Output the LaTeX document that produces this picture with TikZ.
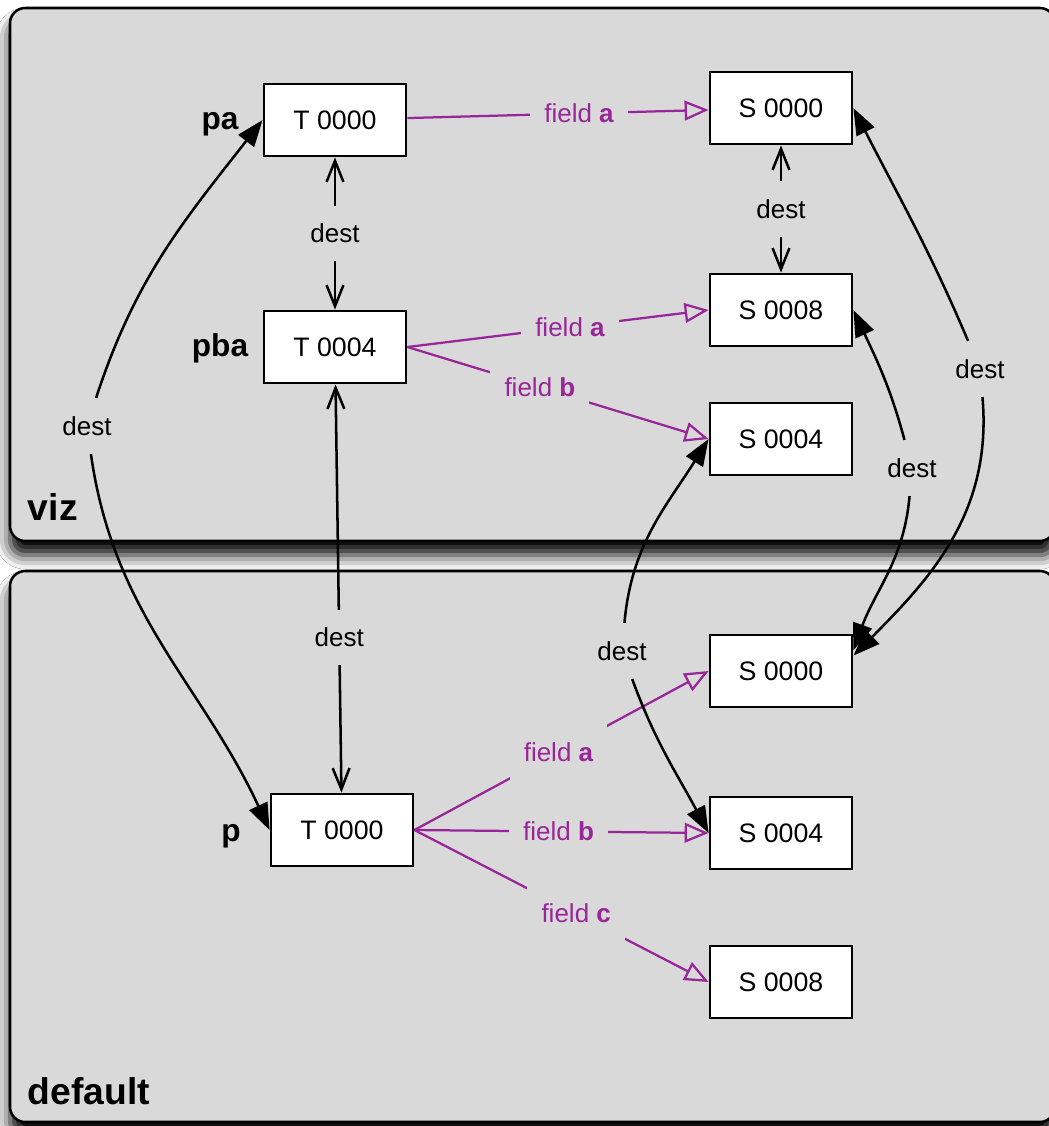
\documentclass[tikz,border=0pt]{standalone}
\usepackage{fontspec}
\setmainfont{Liberation Sans}
\usetikzlibrary{arrows.meta,shadows.blur}
\definecolor{pnlgray}{RGB}{217,217,217}
\definecolor{vio}{RGB}{152,38,152}
\tikzset{
  pnl/.style={draw=black,line width=1.8pt,fill=pnlgray,rounded corners=0.38cm,
              blur shadow={shadow xshift=0pt,shadow yshift=-10pt,
                           shadow blur radius=10pt,shadow opacity=100}},
  box/.style={draw=black,line width=2pt,fill=white,minimum width=3.55cm,
              minimum height=1.8cm,inner sep=0pt,font=\fontsize{19}{22}\selectfont},
  lbl/.style={fill=pnlgray,inner xsep=10pt,inner ysep=13pt,
              font=\fontsize{18.5}{22}\selectfont},
  flbl/.style={lbl,text=vio},
  nm/.style ={font=\fontsize{22.5}{26}\selectfont\bfseries,anchor=base},
  hdr/.style={font=\fontsize{26.5}{30}\selectfont\bfseries,anchor=base west},
  ar/.style ={-{Triangle[length=19pt,width=14pt,fill=black]},line width=1.8pt},
  dar/.style={{Straight Barb[length=15pt,width=12pt]}-{Straight Barb[length=15pt,width=12pt]},
              line width=1.8pt},
  far/.style={-{Triangle[open,length=17pt,width=14pt]},draw=vio,line width=1.6pt},
}
\begin{document}
\begin{tikzpicture}[x=0.025cm,y=0.025cm]
  \clip (0,0) rectangle (1049,-1126);
  \fill[white] (0,0) rectangle (1049,-1126);
  % the two panels
  \draw[pnl] (10,-8) rectangle (1055,-541);
  \draw[pnl] (10,-571) rectangle (1055,-1122);
  \node[hdr] (hviz) at (23,-520) {viz};
  \node[hdr] (hdef) at (23,-1104) {default};
  % viz
  \node[box] (pa)  at (335,-120) {T 0000};
  \node[box] (pba) at (335,-347) {T 0004};
  \node[box] (sa0) at (781,-108) {S 0000};
  \node[box] (sa8) at (781,-310) {S 0008};
  \node[box] (sa4) at (781,-439) {S 0004};
  \node[nm] (npa)  at (220,-129) {pa};
  \node[nm] (npba) at (220,-356) {pba};
  % default
  \node[box] (p)   at (342,-830) {T 0000};
  \node[box] (sb0) at (781,-671) {S 0000};
  \node[box] (sb4) at (781,-833) {S 0004};
  \node[box] (sb8) at (781,-982) {S 0008};
  \node[nm] (np) at (231,-841) {p};
  % dest labels of the curved links
  \node[lbl] (dL)  at (87,-426)  {dest};
  \node[lbl] (dR1) at (912,-468) {dest};
  \node[lbl] (dR2) at (980,-369) {dest};
  \node[lbl] (dM)  at (622,-651) {dest};
  % fields
  \draw[far] (pa) -- node[flbl,pos=.57]{field \textbf{a}} (sa0);
  \draw[far] (pba.east) -- node[flbl,pos=.54]{field \textbf{a}} (sa8.west);
  \draw[far] (pba.east) -- node[flbl,pos=.44]{field \textbf{b}} (sa4.west);
  \draw[far] (p.east) -- node[flbl,pos=.49]{field \textbf{a}} (sb0.west);
  \draw[far] (p.east) -- node[flbl,pos=.49]{field \textbf{b}} (sb4.west);
  \draw[far] (p.east) -- node[flbl,pos=.55]{field \textbf{c}} (sb8.west);
  % dest
  \draw[dar] (pa) -- node[lbl]{dest} (pba);
  \draw[dar] (sa0) -- node[lbl]{dest} (sa8);
  \draw[dar] (pba) -- node[lbl,pos=.62]{dest} (p);
  \draw[ar] (dL) to[out=72,in=-128] (pa.west);
  \draw[ar] (dL) to[out=-82,in=115] (p.west);
  \draw[ar] (dR1) to[out=105,in=-65] (sa8.east);
  \draw[ar] (dR1) to[out=-95,in=70] (sb0.16);
  \draw[ar] (dR2) to[out=113,in=-63] (sa0.east);
  \draw[ar] (dR2) to[out=-85,in=45] (sb0.12);
  \draw[ar] (dM) to[out=85,in=-122] (sa4.west);
  \draw[ar] (dM) to[out=-70,in=118] (sb4.west);
\end{tikzpicture}
\end{document}
